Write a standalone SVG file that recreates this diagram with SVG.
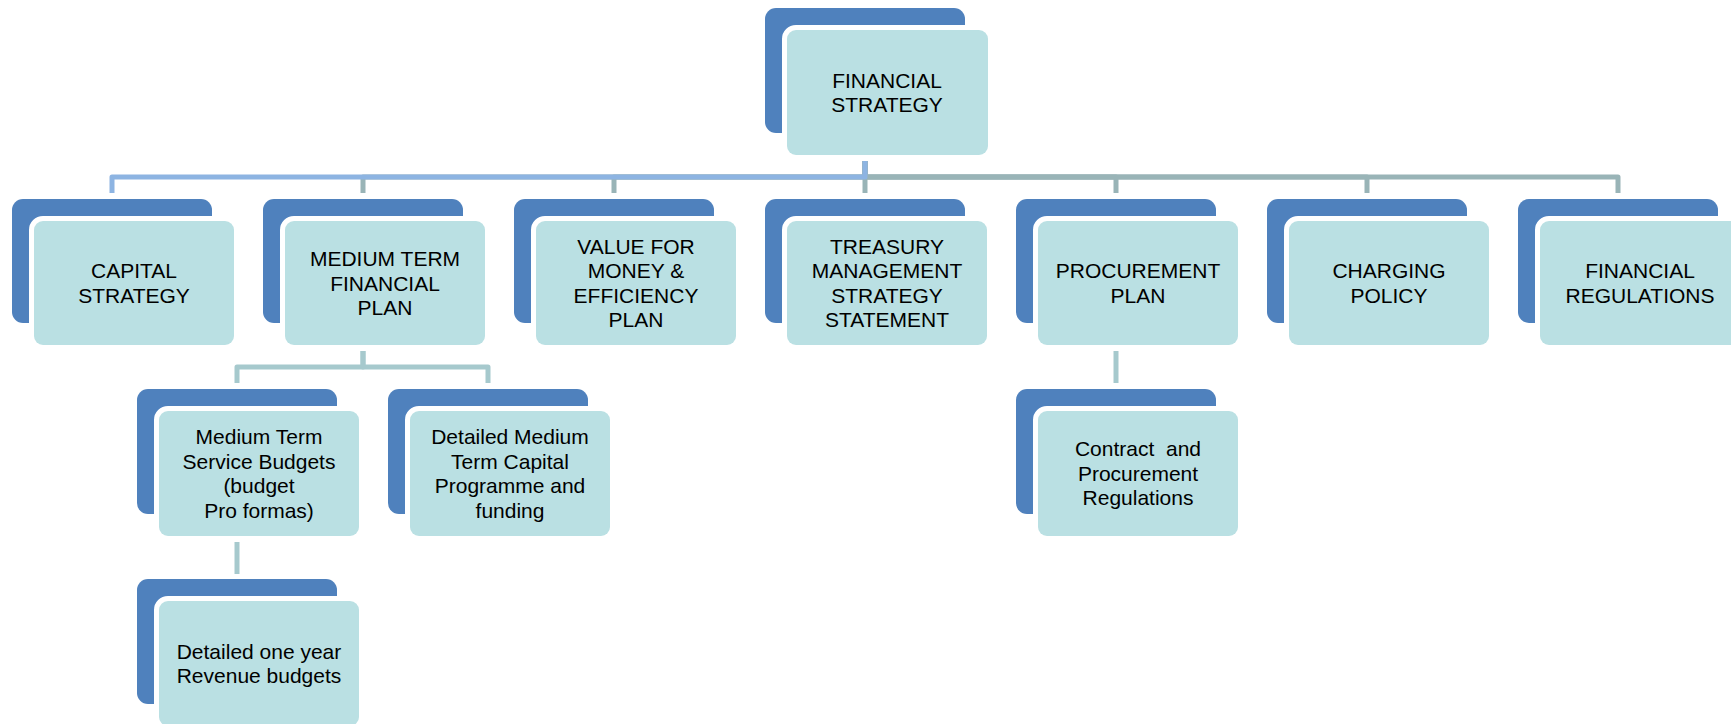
<svg xmlns="http://www.w3.org/2000/svg" width="1731" height="724" viewBox="0 0 1731 724">
<style>
.back{fill:#4F81BD}
.front{fill:#BAE0E3;stroke:#FFFFFF;stroke-width:10;paint-order:stroke}
.t{font-family:"Liberation Sans",Arial,sans-serif;font-size:21px;fill:#000;text-anchor:middle;white-space:pre}
.c{fill:none;stroke-width:5;stroke-linejoin:round}
.c1{stroke:#99B4B7}
.c0{stroke:#8DB4E2}
.c2{stroke:#A6C9CD}
</style>
<rect width="1731" height="724" fill="#FFFFFF"/>
<g id="connectors">
<path class="c c1" d="M865,161 V177 H363 V193"/>
<path class="c c1" d="M865,161 V177 H614 V193"/>
<path class="c c1" d="M865,161 V193"/>
<path class="c c1" d="M865,161 V177 H1116 V193"/>
<path class="c c1" d="M865,161 V177 H1367 V193"/>
<path class="c c1" d="M865,161 V177 H1618 V193"/>
<path class="c c0" d="M865,161 V177 H112 V193"/>
<path class="c c2" d="M363,351 V367 H237 V383"/>
<path class="c c2" d="M363,351 V367 H488 V383"/>
<path class="c c2" d="M237,542 V574"/>
<path class="c c2" d="M1116,351 V383"/>
</g>
<g id="financial-strategy">
<rect class="back" x="765" y="8" width="200" height="125" rx="11"/>
<rect class="front" x="787" y="30" width="201" height="125" rx="9"/>
<text class="t" x="887"><tspan x="887" y="87.7">FINANCIAL</tspan><tspan x="887" y="112.2">STRATEGY</tspan></text>
</g>
<g id="capital-strategy">
<rect class="back" x="12" y="199" width="200" height="124" rx="11"/>
<rect class="front" x="34" y="221" width="200" height="124" rx="9"/>
<text class="t"><tspan x="134" y="278.2">CAPITAL</tspan><tspan x="134" y="302.7">STRATEGY</tspan></text>
</g>
<g id="medium-term-financial-plan">
<rect class="back" x="263" y="199" width="200" height="124" rx="11"/>
<rect class="front" x="285" y="221" width="200" height="124" rx="9"/>
<text class="t"><tspan x="385" y="266">MEDIUM TERM</tspan><tspan x="385" y="290.5">FINANCIAL</tspan><tspan x="385" y="315">PLAN</tspan></text>
</g>
<g id="value-for-money">
<rect class="back" x="514" y="199" width="200" height="124" rx="11"/>
<rect class="front" x="536" y="221" width="200" height="124" rx="9"/>
<text class="t"><tspan x="636" y="253.7">VALUE FOR</tspan><tspan x="636" y="278.2">MONEY &amp;</tspan><tspan x="636" y="302.7">EFFICIENCY</tspan><tspan x="636" y="327.2">PLAN</tspan></text>
</g>
<g id="treasury-management">
<rect class="back" x="765" y="199" width="200" height="124" rx="11"/>
<rect class="front" x="787" y="221" width="200" height="124" rx="9"/>
<text class="t"><tspan x="887" y="253.7">TREASURY</tspan><tspan x="887" y="278.2">MANAGEMENT</tspan><tspan x="887" y="302.7">STRATEGY</tspan><tspan x="887" y="327.2">STATEMENT</tspan></text>
</g>
<g id="procurement-plan">
<rect class="back" x="1016" y="199" width="200" height="124" rx="11"/>
<rect class="front" x="1038" y="221" width="200" height="124" rx="9"/>
<text class="t"><tspan x="1138" y="278.2">PROCUREMENT</tspan><tspan x="1138" y="302.7">PLAN</tspan></text>
</g>
<g id="charging-policy">
<rect class="back" x="1267" y="199" width="200" height="124" rx="11"/>
<rect class="front" x="1289" y="221" width="200" height="124" rx="9"/>
<text class="t"><tspan x="1389" y="278.2">CHARGING</tspan><tspan x="1389" y="302.7">POLICY</tspan></text>
</g>
<g id="financial-regulations">
<rect class="back" x="1518" y="199" width="200" height="124" rx="11"/>
<rect class="front" x="1540" y="221" width="200" height="124" rx="9"/>
<text class="t"><tspan x="1640" y="278.2">FINANCIAL</tspan><tspan x="1640" y="302.7">REGULATIONS</tspan></text>
</g>
<g id="service-budgets">
<rect class="back" x="137" y="389" width="200" height="125" rx="11"/>
<rect class="front" x="159" y="411" width="200" height="125" rx="9"/>
<text class="t"><tspan x="259" y="444.2">Medium Term</tspan><tspan x="259" y="468.7">Service Budgets</tspan><tspan x="259" y="493.2">(budget</tspan><tspan x="259" y="517.7">Pro formas)</tspan></text>
</g>
<g id="capital-programme">
<rect class="back" x="388" y="389" width="200" height="125" rx="11"/>
<rect class="front" x="410" y="411" width="200" height="125" rx="9"/>
<text class="t"><tspan x="510" y="444.2">Detailed Medium</tspan><tspan x="510" y="468.7">Term Capital</tspan><tspan x="510" y="493.2">Programme and</tspan><tspan x="510" y="517.7">funding</tspan></text>
</g>
<g id="contract-procurement">
<rect class="back" x="1016" y="389" width="200" height="125" rx="11"/>
<rect class="front" x="1038" y="411" width="200" height="125" rx="9"/>
<text class="t"><tspan x="1138" y="456.4">Contract  and</tspan><tspan x="1138" y="480.9">Procurement</tspan><tspan x="1138" y="505.4">Regulations</tspan></text>
</g>
<g id="revenue-budgets">
<rect class="back" x="137" y="579" width="200" height="125" rx="11"/>
<rect class="front" x="159" y="601" width="200" height="125" rx="9"/>
<text class="t"><tspan x="259" y="658.7">Detailed one year</tspan><tspan x="259" y="683.2">Revenue budgets</tspan></text>
</g>
</svg>
